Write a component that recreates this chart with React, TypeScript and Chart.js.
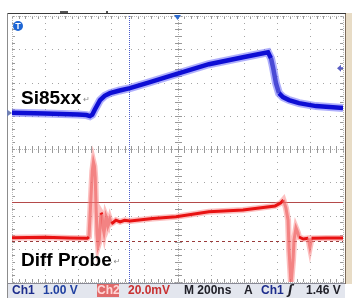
import { useEffect, useRef } from "react";
import { Chart, registerables } from "chart.js";

Chart.register(...registerables);

// Horizontal: 200 ns/div, 10 divisions, trigger at 0 ns
const TIME_MIN_NS = -1000;
const TIME_MAX_NS = 1000;
// Ch1: 1.00 V/div, 8 divisions, ground marker at 0 V
const CH1_MIN_V = -5.08;
const CH1_MAX_V = 2.92;
// Ch2: 20.0 mV/div, 8 divisions
const CH2_MIN_MV = -24.66;
const CH2_MAX_MV = 135.34;

// Ch1 trace (Si85xx output)
const CH1_TIME_NS = [
  -1000, -800, -600, -550, -529, -515, -500, -468, -440, -408, -350, -287,
  -166, -9, 190, 396, 547, 565, 577, 595, 613, 637, 674, 734, 837, 1000,
];
const CH1_VOLTS = [
  0.01, -0.01, -0.04, -0.06, -0.09, -0.05, 0.1, 0.39, 0.52, 0.6, 0.68, 0.75,
  0.93, 1.17, 1.47, 1.68, 1.83, 1.65, 1.38, 0.9, 0.6, 0.48, 0.39, 0.3, 0.21,
  0.15,
];

// Ch2 trace (Diff Probe)
const CH2_TIME_NS = [
  -1000, -800, -650, -545, -535, -525, -515, -508, -502, -497, -492, -486,
  -480, -474, -468, -462, -456, -450, -444, -438, -432, -426, -420, -414,
  -408, -400, -390, -372, -347, -320, -287, -150, -9, 190, 396, 590, 625,
  640, 655, 668, 674, 686, 698, 704, 716, 728, 734, 760, 790, 800, 810, 900,
  1000,
];
const CH2_MILLIVOLTS = [
  2.0, 2.2, 1.8, 1.6, 2.5, 22, 42, 47.5, 45, 38, 20, 4, -3, -1, 8, 17, 16,
  8, 5, 9, 15, 13.5, 9, 10.5, 13, 10.5, 11, 12.5, 11.5, 12.5, 12.0, 13.5,
  14.6, 17.6, 18.6, 21.1, 23, 24.7, 20, 12.6, -5.4, -26, -11.4, 0.6, 7.8, 4.8,
  2.4, 1.2, 1.6, -3.6, 1.6, 1.8, 1.8,
];

// Cursors / markers
const CH2_CURSOR_MV = [23.5];
const CH2_REF_MV = [0];
const TIME_CURSOR_NS = [-293];
const CH1_GROUND_V = 0;
const TRIGGER_MARK_V = 1.35;
const TRIGGER_POS_NS = 0;

// Status bar
const STATUS_ITEMS = [
  { text: "Ch1", left: 12, color: "#1c2c8c" },
  { text: "1.00 V", left: 43, color: "#2040a0" },
  { text: "20.0mV", left: 128, color: "#c83030" },
  { text: "M 200ns", left: 184, color: "#202028" },
  { text: "A", left: 244, color: "#202028" },
  { text: "Ch1", left: 261, color: "#1c2c8c" },
  { text: "1.46 V", left: 306, color: "#202028" },
];

function toXY(xs: number[], ys: number[]) {
  return xs.map((x, i) => ({ x, y: ys[i] }));
}

function steepColor(light: string) {
  return (c: any) => {
    const dx = Math.abs(c.p1.x - c.p0.x);
    const dy = Math.abs(c.p1.y - c.p0.y);
    return dy > 2.5 * dx ? light : undefined;
  };
}

const scopePlugin = {
  id: "scopeGraticule",
  beforeDatasetsDraw(chart: any) {
    const { ctx, chartArea: a, scales } = chart;
    const w = a.right - a.left;
    const h = a.bottom - a.top;
    ctx.save();
    ctx.fillStyle = "#a4a4a4";
    for (let i = 1; i < 10; i++) {
      if (i === 5) continue;
      const x = Math.round(a.left + (i * w) / 10);
      for (let j = 0; j <= 40; j++) {
        const y = Math.round(a.top + (j * h) / 40);
        ctx.fillRect(x, y, 1, 1);
      }
    }
    for (let j = 1; j < 8; j++) {
      if (j === 4) continue;
      const y = Math.round(a.top + (j * h) / 8);
      for (let k = 0; k <= 50; k++) {
        const x = Math.round(a.left + (k * w) / 50);
        ctx.fillRect(x, y, 1, 1);
      }
    }
    const cx = Math.round(a.left + w / 2);
    const cy = Math.round(a.top + h / 2);
    ctx.fillStyle = "#b4b4b4";
    for (let x = a.left; x <= a.right; x += 2) ctx.fillRect(x, cy, 1, 1);
    for (let y = a.top; y <= a.bottom; y += 2) ctx.fillRect(cx, y, 1, 1);
    ctx.fillStyle = "#999";
    for (let k = 0; k <= 50; k++) {
      const x = Math.round(a.left + (k * w) / 50);
      ctx.fillRect(x, cy - 3, 1, 7);
      ctx.fillRect(x, Math.round(a.top), 1, 3);
      ctx.fillRect(x, Math.round(a.bottom) - 3, 1, 3);
    }
    for (let j = 0; j <= 40; j++) {
      const y = Math.round(a.top + (j * h) / 40);
      ctx.fillRect(cx - 3, y, 7, 1);
      ctx.fillRect(Math.round(a.left), y, 3, 1);
      ctx.fillRect(Math.round(a.right) - 3, y, 3, 1);
    }
    ctx.fillStyle = "#b8b8b8";
    for (let x = a.left; x <= a.right; x += 2) {
      ctx.fillRect(x, Math.round(a.top), 1, 1);
      ctx.fillRect(x, Math.round(a.bottom), 1, 1);
    }
    for (let y = a.top; y <= a.bottom; y += 2) {
      ctx.fillRect(Math.round(a.left), y, 1, 1);
      ctx.fillRect(Math.round(a.right), y, 1, 1);
    }
    ctx.fillStyle = "#4a5ccc";
    TIME_CURSOR_NS.forEach((t) => {
      const x = Math.round(scales.x.getPixelForValue(t));
      for (let y = a.top; y <= a.bottom; y += 2) ctx.fillRect(x, y, 1, 1);
    });
    ctx.lineWidth = 1;
    CH2_CURSOR_MV.forEach((v) => {
      const y = Math.round(scales.y2.getPixelForValue(v)) + 0.5;
      ctx.strokeStyle = "#b44a4a";
      ctx.beginPath();
      ctx.moveTo(a.left, y);
      ctx.lineTo(a.right, y);
      ctx.stroke();
    });
    CH2_REF_MV.forEach((v) => {
      const y = Math.round(scales.y2.getPixelForValue(v)) + 0.5;
      ctx.strokeStyle = "#9a3a3a";
      ctx.setLineDash([3, 3]);
      ctx.beginPath();
      ctx.moveTo(a.left, y);
      ctx.lineTo(a.right, y);
      ctx.stroke();
      ctx.setLineDash([]);
    });
    ctx.restore();
  },
  afterDraw(chart: any) {
    const { ctx, chartArea: a, scales, width, height } = chart;
    ctx.save();
    ctx.fillStyle = "#e8dcc6";
    ctx.fillRect(345, 13, width - 345, 271);
    ctx.fillStyle = "#7c6c5c";
    ctx.fillRect(345, 13, 1, 271);
    ctx.fillStyle = "#e3e6ee";
    ctx.fillRect(8, 283, 337, height - 283);
    ctx.fillStyle = "#8a8a96";
    ctx.fillRect(8, 283, 337, 1);
    ctx.fillStyle = "#3a3a3a";
    ctx.fillRect(7, 13, 339, 1);
    ctx.fillStyle = "#8c8c8c";
    ctx.fillRect(7, 13, 1, height - 13);
    ctx.fillStyle = "#555";
    ctx.fillRect(60, 11, 8, 2);
    ctx.fillRect(106, 11, 2, 2);
    const tx = scales.x.getPixelForValue(TRIGGER_POS_NS);
    ctx.fillStyle = "#2e6cd0";
    ctx.beginPath();
    ctx.moveTo(tx - 3.5, a.top - 1);
    ctx.lineTo(tx + 3.5, a.top - 1);
    ctx.lineTo(tx, a.top + 4);
    ctx.closePath();
    ctx.fill();
    const ty = scales.y1.getPixelForValue(TRIGGER_MARK_V);
    ctx.fillStyle = "#5a5ec4";
    ctx.beginPath();
    ctx.moveTo(a.right - 6, ty);
    ctx.lineTo(a.right - 2, ty - 3.5);
    ctx.lineTo(a.right - 2, ty + 3.5);
    ctx.closePath();
    ctx.fill();
    ctx.fillRect(a.right - 3, ty - 1, 3, 2);
    const gy = scales.y1.getPixelForValue(CH1_GROUND_V);
    ctx.fillStyle = "#7080b4";
    ctx.beginPath();
    ctx.moveTo(a.left - 5, gy - 3.5);
    ctx.lineTo(a.left, gy);
    ctx.lineTo(a.left - 5, gy + 3.5);
    ctx.closePath();
    ctx.fill();
    ctx.restore();
  },
};

export default function App() {
  const canvasRef = useRef<HTMLCanvasElement | null>(null);

  useEffect(() => {
    if (!canvasRef.current) return;
    const ch1 = toXY(CH1_TIME_NS, CH1_VOLTS);
    const ch2 = toXY(CH2_TIME_NS, CH2_MILLIVOLTS);
    const chart = new Chart(canvasRef.current, {
      type: "line",
      data: {
        datasets: [
          {
            data: ch1,
            yAxisID: "y1",
            borderColor: "rgb(14,14,212)",
            borderWidth: 4.5,
            pointRadius: 0,
            tension: 0,
            order: 0,
            segment: { borderColor: steepColor("rgba(40,40,200,0.75)") },
          } as any,
          {
            data: ch2,
            yAxisID: "y2",
            borderColor: "rgb(232,18,18)",
            borderWidth: 3,
            pointRadius: 0,
            tension: 0,
            order: 0,
            segment: { borderColor: steepColor("rgba(236,90,90,0.6)") },
          } as any,
          {
            data: ch1,
            yAxisID: "y1",
            borderColor: "rgba(110,110,250,0.55)",
            borderWidth: 8,
            pointRadius: 0,
            tension: 0,
            order: 1,
          },
          {
            data: ch2,
            yAxisID: "y2",
            borderColor: "rgba(250,130,130,0.5)",
            borderWidth: 6,
            pointRadius: 0,
            tension: 0,
            order: 1,
          },
        ],
      },
      options: {
        animation: false,
        responsive: false,
        maintainAspectRatio: false,
        parsing: false as any,
        layout: { padding: { left: 12, right: 9, top: 16, bottom: 16 } },
        plugins: { legend: { display: false }, tooltip: { enabled: false } },
        events: [],
        scales: {
          x: { type: "linear", min: TIME_MIN_NS, max: TIME_MAX_NS, display: false },
          y1: { type: "linear", min: CH1_MIN_V, max: CH1_MAX_V, display: false },
          y2: { type: "linear", min: CH2_MIN_MV, max: CH2_MAX_MV, display: false },
        },
      },
      plugins: [scopePlugin],
    });
    return () => chart.destroy();
  }, []);

  const labelStyle: React.CSSProperties = {
    position: "absolute",
    fontFamily: '"Liberation Sans", Arial, sans-serif',
    fontWeight: "bold",
    fontSize: 19,
    lineHeight: "19px",
    color: "#000",
    whiteSpace: "nowrap",
  };
  const retStyle: React.CSSProperties = {
    fontFamily: '"DejaVu Sans", sans-serif',
    fontWeight: "normal",
    fontSize: 8,
    color: "#8a8a8a",
    marginLeft: 2,
    position: "relative",
    top: -2,
  };
  const statusStyle: React.CSSProperties = {
    position: "absolute",
    top: 283,
    fontFamily: '"Liberation Sans", Arial, sans-serif',
    fontWeight: "bold",
    fontSize: 12,
    lineHeight: "14px",
    whiteSpace: "nowrap",
  };

  return (
    <div
      style={{
        position: "absolute",
        left: 0,
        top: 0,
        width: 352,
        height: 298,
        background: "#fff",
        overflow: "hidden",
      }}
    >
      <canvas
        ref={canvasRef}
        width={352}
        height={298}
        style={{ position: "absolute", left: 0, top: 0, width: 352, height: 298 }}
      />
      <div
        style={{
          position: "absolute",
          left: 13,
          top: 21,
          width: 10,
          height: 10,
          borderRadius: 5,
          background: "#1e66d4",
          color: "#fff",
          fontFamily: '"Liberation Sans", Arial, sans-serif',
          fontWeight: "bold",
          fontSize: 9,
          lineHeight: "10px",
          textAlign: "center",
        }}
      >
        T
      </div>
      <div style={{ ...labelStyle, left: 21, top: 88 }}>
        Si85xx<span style={retStyle}>↵</span>
      </div>
      <div style={{ ...labelStyle, left: 21, top: 250 }}>
        Diff Probe<span style={retStyle}>↵</span>
      </div>
      {STATUS_ITEMS.map((s, i) => (
        <div key={i} style={{ ...statusStyle, left: s.left, color: s.color }}>
          {s.text}
        </div>
      ))}
      <div
        style={{
          ...statusStyle,
          left: 97,
          top: 284,
          width: 22,
          height: 13,
          lineHeight: "13px",
          background: "#e06a6a",
          color: "#ffd6d6",
          textAlign: "center",
        }}
      >
        Ch2
      </div>
      <div
        style={{
          ...statusStyle,
          left: 288,
          color: "#202028",
          fontFamily: '"DejaVu Sans", sans-serif',
          fontStyle: "italic",
        }}
      >
        ʃ
      </div>
    </div>
  );
}
